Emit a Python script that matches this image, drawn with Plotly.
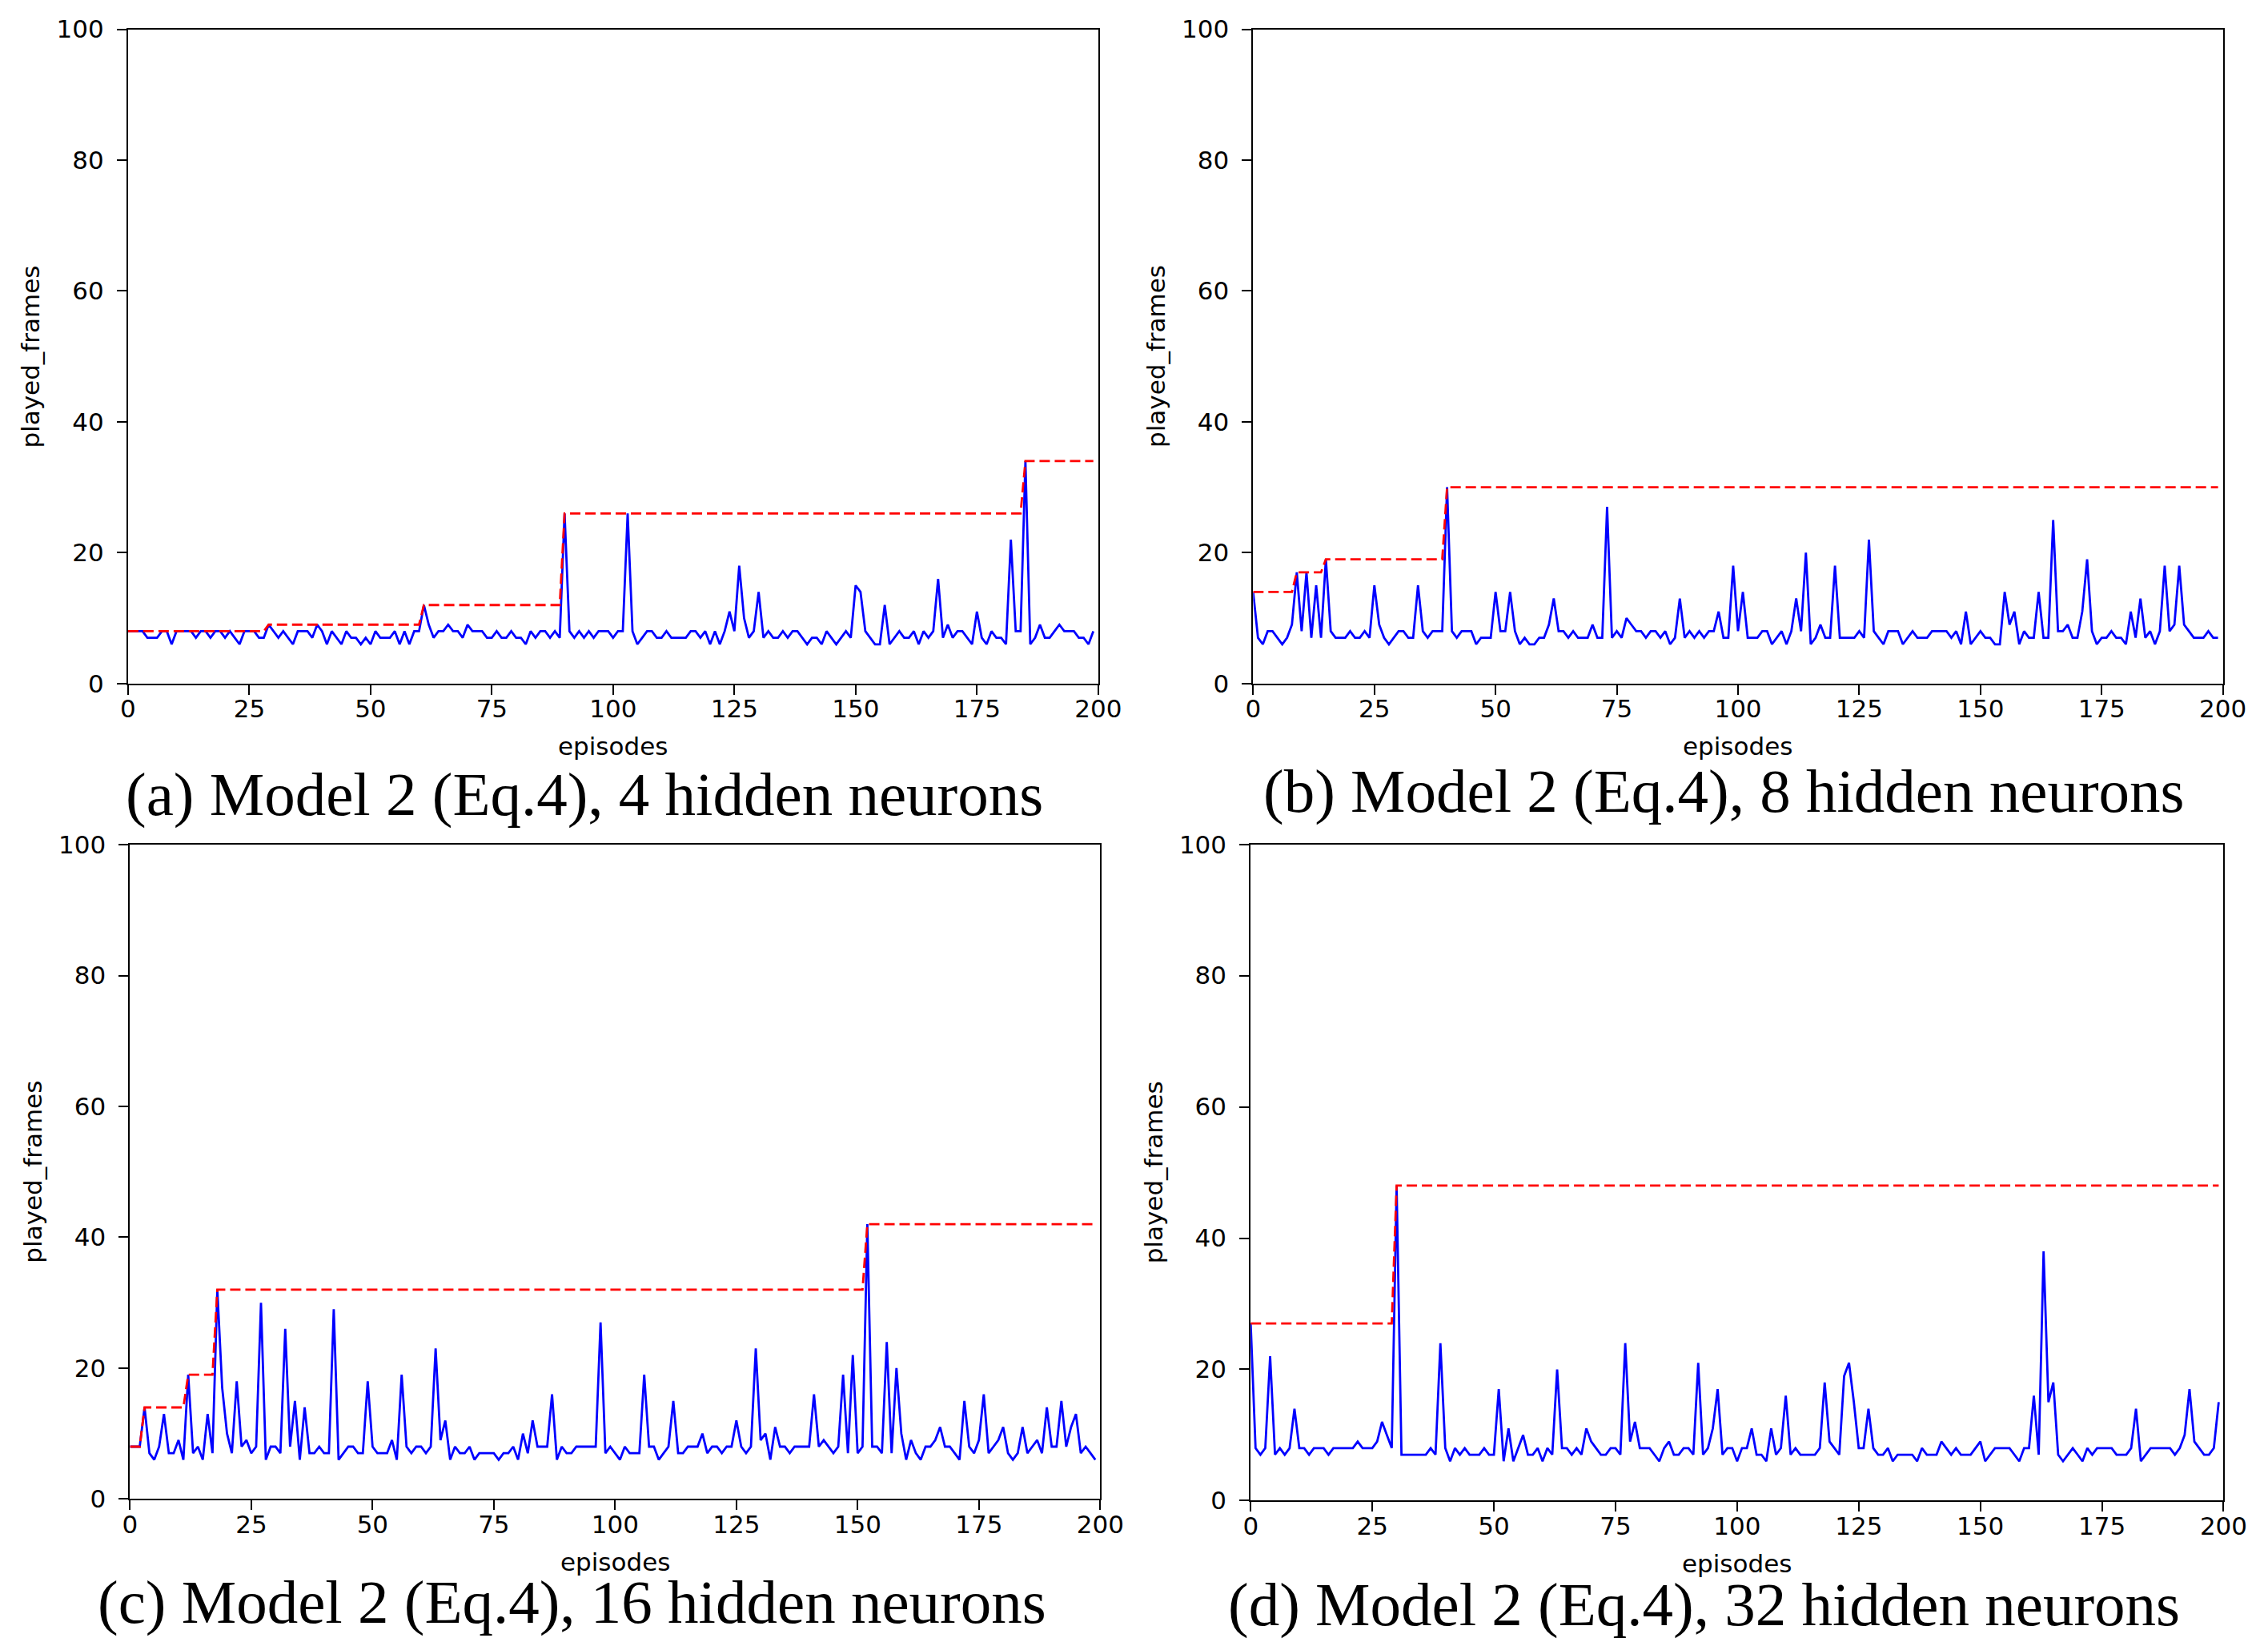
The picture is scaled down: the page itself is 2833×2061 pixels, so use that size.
import plotly.graph_objects as go
from plotly.subplots import make_subplots

episodes = list(range(200))

# played frames per episode
frames_4 = [8, 8, 8, 8, 7, 7, 7, 8, 8, 6,
            8, 8, 8, 8, 7, 8, 8, 7, 8, 8,
            7, 8, 7, 6, 8, 8, 8, 7, 7, 9,
            8, 7, 8, 7, 6, 8, 8, 8, 7, 9,
            8, 6, 8, 7, 6, 8, 7, 7, 6, 7,
            6, 8, 7, 7, 7, 8, 6, 8, 6, 8,
            8, 12, 9, 7, 8, 8, 9, 8, 8, 7,
            9, 8, 8, 8, 7, 7, 8, 7, 7, 8,
            7, 7, 6, 8, 7, 8, 8, 7, 8, 7,
            26, 8, 7, 8, 7, 8, 7, 8, 8, 8,
            7, 8, 8, 26, 8, 6, 7, 8, 8, 7,
            7, 8, 7, 7, 7, 7, 8, 8, 7, 8,
            6, 8, 6, 8, 11, 8, 18, 10, 7, 8,
            14, 7, 8, 7, 7, 8, 7, 8, 8, 7,
            6, 7, 7, 6, 8, 7, 6, 7, 8, 7,
            15, 14, 8, 7, 6, 6, 12, 6, 7, 8,
            7, 7, 8, 6, 8, 7, 8, 16, 7, 9,
            7, 8, 8, 7, 6, 11, 7, 6, 8, 7,
            7, 6, 22, 8, 8, 34, 6, 7, 9, 7,
            7, 8, 9, 8, 8, 8, 7, 7, 6, 8]

frames_8 = [14, 7, 6, 8, 8, 7, 6, 7, 9, 17,
            8, 17, 7, 15, 7, 19, 8, 7, 7, 7,
            8, 7, 7, 8, 7, 15, 9, 7, 6, 7,
            8, 8, 7, 7, 15, 8, 7, 8, 8, 8,
            30, 8, 7, 8, 8, 8, 6, 7, 7, 7,
            14, 8, 8, 14, 8, 6, 7, 6, 6, 7,
            7, 9, 13, 8, 8, 7, 8, 7, 7, 7,
            9, 7, 7, 27, 7, 8, 7, 10, 9, 8,
            8, 7, 8, 8, 7, 8, 6, 7, 13, 7,
            8, 7, 8, 7, 8, 8, 11, 7, 7, 18,
            8, 14, 7, 7, 7, 8, 8, 6, 7, 8,
            6, 8, 13, 8, 20, 6, 7, 9, 7, 7,
            18, 7, 7, 7, 7, 8, 7, 22, 8, 7,
            6, 8, 8, 8, 6, 7, 8, 7, 7, 7,
            8, 8, 8, 8, 7, 8, 6, 11, 6, 7,
            8, 7, 7, 6, 6, 14, 9, 11, 6, 8,
            7, 7, 14, 7, 7, 25, 8, 8, 9, 7,
            7, 11, 19, 8, 6, 7, 7, 8, 7, 7,
            6, 11, 7, 13, 7, 8, 6, 8, 18, 8,
            9, 18, 9, 8, 7, 7, 7, 8, 7, 7]

frames_16 = [8, 8, 8, 14, 7, 6, 8, 13, 7, 7,
             9, 6, 19, 7, 8, 6, 13, 7, 32, 17,
             10, 7, 18, 8, 9, 7, 8, 30, 6, 8,
             8, 7, 26, 8, 15, 6, 14, 7, 7, 8,
             7, 7, 29, 6, 7, 8, 8, 7, 7, 18,
             8, 7, 7, 7, 9, 6, 19, 8, 7, 8,
             8, 7, 8, 23, 9, 12, 6, 8, 7, 7,
             8, 6, 7, 7, 7, 7, 6, 7, 7, 8,
             6, 10, 7, 12, 8, 8, 8, 16, 6, 8,
             7, 7, 8, 8, 8, 8, 8, 27, 7, 8,
             7, 6, 8, 7, 7, 7, 19, 8, 8, 6,
             7, 8, 15, 7, 7, 8, 8, 8, 10, 7,
             8, 8, 7, 8, 8, 12, 8, 7, 8, 23,
             9, 10, 6, 11, 8, 8, 7, 8, 8, 8,
             8, 16, 8, 9, 8, 7, 8, 19, 7, 22,
             7, 8, 42, 8, 8, 7, 24, 7, 20, 10,
             6, 9, 7, 6, 8, 8, 9, 11, 8, 8,
             7, 6, 15, 8, 7, 9, 16, 7, 8, 9,
             11, 7, 6, 7, 11, 7, 8, 9, 7, 14,
             8, 8, 15, 8, 11, 13, 7, 8, 7, 6]

frames_32 = [27, 8, 7, 8, 22, 7, 8, 7, 8, 14,
             8, 8, 7, 8, 8, 8, 7, 8, 8, 8,
             8, 8, 9, 8, 8, 8, 9, 12, 10, 8,
             48, 7, 7, 7, 7, 7, 7, 8, 7, 24,
             8, 6, 8, 7, 8, 7, 7, 7, 8, 7,
             7, 17, 6, 11, 6, 8, 10, 7, 7, 8,
             6, 8, 7, 20, 8, 8, 7, 8, 7, 11,
             9, 8, 7, 7, 8, 8, 7, 24, 9, 12,
             8, 8, 8, 7, 6, 8, 9, 7, 7, 8,
             8, 7, 21, 7, 8, 11, 17, 7, 8, 8,
             6, 8, 8, 11, 7, 7, 6, 11, 7, 8,
             16, 7, 8, 7, 7, 7, 7, 8, 18, 9,
             8, 7, 19, 21, 15, 8, 8, 14, 8, 7,
             7, 8, 6, 7, 7, 7, 7, 6, 8, 7,
             7, 7, 9, 8, 7, 8, 7, 7, 7, 8,
             9, 6, 7, 8, 8, 8, 8, 7, 6, 8,
             8, 16, 7, 38, 15, 18, 7, 6, 7, 8,
             7, 6, 8, 7, 8, 8, 8, 8, 7, 7,
             7, 8, 14, 6, 7, 8, 8, 8, 8, 8,
             7, 8, 10, 17, 9, 8, 7, 7, 8, 15]

# best-so-far (red dashed) line, as its corner points
best_4_x = [0, 28, 29, 60, 61, 89, 90, 184, 185, 199]
best_4_y = [8, 8, 9, 9, 12, 12, 26, 26, 34, 34]
best_8_x = [0, 8, 9, 14, 15, 39, 40, 199]
best_8_y = [14, 14, 17, 17, 19, 19, 30, 30]
best_16_x = [0, 2, 3, 11, 12, 17, 18, 151, 152, 199]
best_16_y = [8, 8, 14, 14, 19, 19, 32, 32, 42, 42]
best_32_x = [0, 29, 30, 199]
best_32_y = [27, 27, 48, 48]

captions = ["(a) Model 2 (Eq.4), 4 hidden neurons",
            "(b) Model 2 (Eq.4), 8 hidden neurons",
            "(c) Model 2 (Eq.4), 16 hidden neurons",
            "(d) Model 2 (Eq.4), 32 hidden neurons"]

x_ticks = [0, 25, 50, 75, 100, 125, 150, 175, 200]
y_ticks = [0, 20, 40, 60, 80, 100]

panels = [(frames_4, best_4_x, best_4_y),
          (frames_8, best_8_x, best_8_y),
          (frames_16, best_16_x, best_16_y),
          (frames_32, best_32_x, best_32_y)]

# plot area of each panel, in paper fractions
x_domains = [[0.0508, 0.4847], [0.5540, 0.9877],
             [0.0517, 0.4856], [0.5529, 0.9880]]
y_domains = [[0.5912, 0.9948], [0.5912, 0.9948],
             [0.0882, 0.4918], [0.0872, 0.4920]]
caption_pos = [(0.2550, 0.5232), (0.7645, 0.5247),
               (0.2495, 0.0248), (0.7555, 0.0232)]

fig = make_subplots(rows=2, cols=2)

tick_font = dict(family="DejaVu Sans", size=31, color="black")

for i, (frames, bx, by) in enumerate(panels):
    row = i // 2 + 1
    col = i % 2 + 1
    fig.add_trace(go.Scatter(x=episodes, y=frames, mode="lines",
                             line=dict(color="#0000ff", width=2.8),
                             showlegend=False),
                  row=row, col=col)
    fig.add_trace(go.Scatter(x=bx, y=by, mode="lines",
                             line=dict(color="#ff0000", width=2.8,
                                       dash="13px,6px"),
                             showlegend=False),
                  row=row, col=col)
    fig.update_xaxes(domain=x_domains[i], range=[0, 200],
                     tickvals=x_ticks, ticks="outside", ticklen=12,
                     tickwidth=2, tickcolor="black", tickfont=tick_font,
                     ticklabelstandoff=-9,
                     showline=True, linecolor="black", linewidth=2,
                     mirror=True, showgrid=False, zeroline=False,
                     row=row, col=col)
    fig.update_yaxes(domain=y_domains[i], range=[0, 100],
                     tickvals=y_ticks, ticks="outside", ticklen=12,
                     tickwidth=2, tickcolor="black", tickfont=tick_font,
                     ticklabelstandoff=10,
                     showline=True, linecolor="black", linewidth=2,
                     mirror=True, showgrid=False, zeroline=False,
                     row=row, col=col)

    # axis titles
    x0, x1 = x_domains[i]
    y0, y1 = y_domains[i]
    fig.add_annotation(text="episodes", xref="paper", yref="paper",
                       x=(x0 + x1) / 2, y=y0 - 0.0388,
                       xanchor="center", yanchor="middle", showarrow=False,
                       font=tick_font)
    fig.add_annotation(text="played_frames", xref="paper", yref="paper",
                       x=x0 - 0.0435, y=(y0 + y1) / 2, textangle=-90,
                       xanchor="center", yanchor="middle", showarrow=False,
                       font=tick_font)
    cx, cy = caption_pos[i]
    fig.add_annotation(text=captions[i], xref="paper", yref="paper",
                       x=cx, y=cy, xanchor="center", yanchor="middle",
                       showarrow=False,
                       font=dict(family="Liberation Serif", size=77,
                                 color="black"))

fig.update_layout(width=2833, height=2061,
                  margin=dict(l=0, r=0, t=0, b=0),
                  paper_bgcolor="white", plot_bgcolor="white")

fig.write_html("out.html")
